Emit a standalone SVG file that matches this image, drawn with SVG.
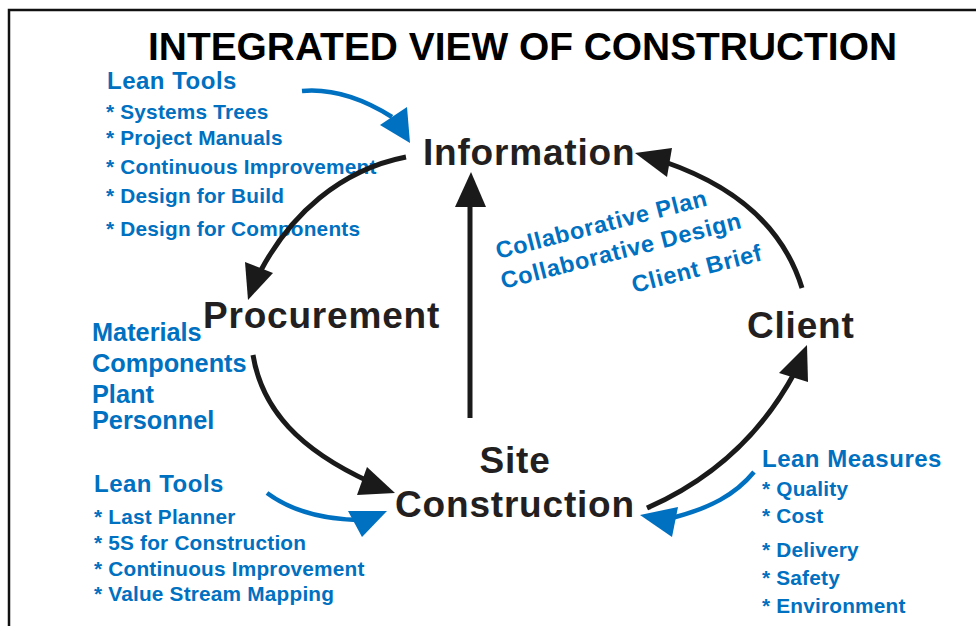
<svg xmlns="http://www.w3.org/2000/svg" width="976" height="626" viewBox="0 0 976 626">
  <style>
    text { font-family: "Liberation Sans", Arial, sans-serif; font-weight: bold; }
    .title { font-size: 38.9px; fill: #000; }
    .node { font-size: 37px; fill: #231f20; letter-spacing: 0.8px; }
    .head { font-size: 24px; fill: #0070c0; letter-spacing: 0.5px; }
    .item { font-size: 20.8px; fill: #0070c0; letter-spacing: 0.2px; }
    .res { font-size: 25.3px; fill: #0070c0; }
    .flow { font-size: 23.5px; fill: #0070c0; letter-spacing: 0.7px; }
    .arc-k { fill: none; stroke: #1a1a1a; stroke-width: 5; }
    .arc-b { fill: none; stroke: #0070c0; stroke-width: 4.5; }
    .tip-k { fill: #1a1a1a; }
    .tip-b { fill: #0070c0; }
  </style>

  <rect width="976" height="626" fill="#fff"/>
  <!-- frame: open on the right and bottom -->
  <rect x="9" y="10" width="1000" height="700" fill="none" stroke="#111" stroke-width="2.5"/>

  <text class="title" x="148" y="60">INTEGRATED VIEW OF CONSTRUCTION</text>

  <!-- nodes -->
  <g id="information">
    <text class="node" x="423" y="165">Information</text>
  </g>
  <g id="procurement">
    <text class="node" x="203" y="328">Procurement</text>
  </g>
  <g id="client">
    <text class="node" x="747" y="338">Client</text>
  </g>
  <g id="site-construction">
    <text class="node" x="515" y="473" text-anchor="middle">Site</text>
    <text class="node" x="515" y="517" text-anchor="middle">Construction</text>
  </g>

  <!-- annotations -->
  <g id="lean-tools-design">
    <text class="head" x="107" y="89">Lean Tools</text>
    <text class="item" x="106" y="119">* Systems Trees</text>
    <text class="item" x="106" y="145">* Project Manuals</text>
    <text class="item" x="106" y="174">* Continuous Improvement</text>
    <text class="item" x="106" y="203">* Design for Build</text>
    <text class="item" x="106" y="236">* Design for Components</text>
  </g>
  <g id="resources">
    <text class="res" x="92" y="341">Materials</text>
    <text class="res" x="92" y="372">Components</text>
    <text class="res" x="92" y="403">Plant</text>
    <text class="res" x="92" y="429">Personnel</text>
  </g>
  <g id="lean-tools-site">
    <text class="head" x="94" y="492">Lean Tools</text>
    <text class="item" x="94" y="524">* Last Planner</text>
    <text class="item" x="94" y="550">* 5S for Construction</text>
    <text class="item" x="94" y="576">* Continuous Improvement</text>
    <text class="item" x="94" y="601">* Value Stream Mapping</text>
  </g>
  <g id="lean-measures">
    <text class="head" x="762" y="467">Lean Measures</text>
    <text class="item" x="762" y="496">* Quality</text>
    <text class="item" x="762" y="523">* Cost</text>
    <text class="item" x="762" y="557">* Delivery</text>
    <text class="item" x="762" y="585">* Safety</text>
    <text class="item" x="762" y="613">* Environment</text>
  </g>
  <g id="client-flow">
    <text class="flow" transform="translate(498 259) rotate(-14.3)">Collaborative Plan</text>
    <text class="flow" transform="translate(503 289) rotate(-14.3)">Collaborative Design</text>
    <text class="flow" transform="translate(634 293) rotate(-14.3)">Client Brief</text>
  </g>

  <!-- connectors -->
  <g id="connectors">
    <!-- Information to Procurement -->
    <path class="arc-k" d="M 406 157 C 340 170 290 215 260 272"/>
    <polygon class="tip-k" points="245,262 273,273 248,300"/>
    <!-- Procurement to Site Construction -->
    <path class="arc-k" d="M 253 355 C 262 410 300 450 370 482"/>
    <polygon class="tip-k" points="367,467 395,493 357,495"/>
    <!-- Site Construction to Information -->
    <path class="arc-k" d="M 470 418 V 200" stroke-width="6"/>
    <polygon class="tip-k" points="471,172 455,207 486,207"/>
    <!-- Client to Information -->
    <path class="arc-k" d="M 802 288 Q 775 200 665 162"/>
    <polygon class="tip-k" points="635,153 672,148 667,177"/>
    <!-- Site Construction to Client -->
    <path class="arc-k" d="M 647 508 Q 745 465 795 372"/>
    <polygon class="tip-k" points="807,345 779,373 808,382"/>

    <!-- lean tools / measures feeding in -->
    <path class="arc-b" d="M 302 91 C 335 88 365 100 392 117"/>
    <polygon class="tip-b" points="410,143 380,125 407,107"/>
    <path class="arc-b" d="M 267 493 C 290 510 320 520 364 520"/>
    <polygon class="tip-b" points="387,511 348,511 362,537"/>
    <path class="arc-b" d="M 754 472 C 735 495 710 508 672 518"/>
    <polygon class="tip-b" points="640,515 678,507 672,537"/>
  </g>
</svg>
